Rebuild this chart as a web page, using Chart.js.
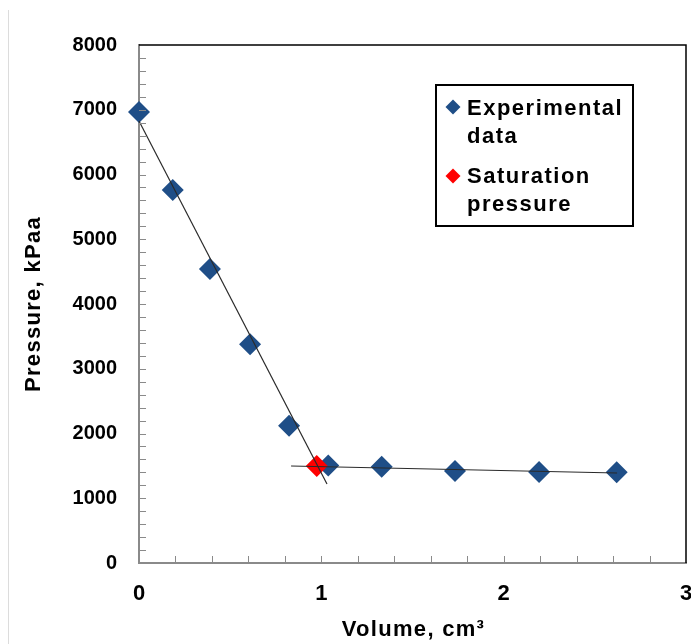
<!DOCTYPE html>
<html>
<head>
<meta charset="utf-8">
<script src="https://cdn.jsdelivr.net/npm/chart.js@4"></script>
<style>
  html, body { margin: 0; padding: 0; background: #ffffff; }
  canvas { display: block; }
</style>
</head>
<body>
<canvas id="c" width="691" height="644"></canvas>
<script>
// ---- data ----
const expVolume   = [0, 0.185, 0.389, 0.609, 0.823, 1.038, 1.331, 1.733, 2.194, 2.620];
const expPressure = [6965, 5760, 4541, 3378, 2121, 1505, 1488, 1421, 1405, 1401];
const satVolume   = [0.975];
const satPressure = [1500];
const steepLineX  = [0, 1.031];
const steepLineY  = [6825, 1220];
const flatLineX   = [0.834, 2.622];
const flatLineY   = [1498, 1390];
const xTicks = [0, 1, 2, 3];
const yTicks = [0, 1000, 2000, 3000, 4000, 5000, 6000, 7000, 8000];
const legendLabels = [["Experimental", "data"], ["Saturation", "pressure"]];
const xTitle = "Volume, cm³";
const yTitle = "Pressure, kPaa";

const BLUE = '#1F4E87';
const RED = '#FF0000';
const FONT = '"Liberation Sans", Arial, sans-serif';

const toXY = (xs, ys) => xs.map((x, i) => ({ x: x, y: ys[i] }));

const decorPlugin = {
  id: 'decor',
  beforeDraw(chart) {
    const ctx = chart.ctx;
    ctx.save();
    ctx.strokeStyle = '#dcdcdc';
    ctx.lineWidth = 1;
    ctx.beginPath();
    ctx.moveTo(8.5, 10);
    ctx.lineTo(8.5, 644);
    ctx.stroke();
    ctx.restore();
  },
  afterDraw(chart) {
    const ctx = chart.ctx;
    const ca = chart.chartArea;
    const xs = chart.scales.x, ys = chart.scales.y;
    ctx.save();
    // top & right border
    ctx.strokeStyle = '#000000';
    ctx.lineWidth = 1.5;
    ctx.beginPath();
    ctx.moveTo(ca.left, ca.top);
    ctx.lineTo(ca.right, ca.top);
    ctx.lineTo(ca.right, ca.bottom);
    ctx.stroke();
    // inward ticks
    ctx.strokeStyle = '#8a8a8a';
    ctx.lineWidth = 1;
    ctx.beginPath();
    for (let v = 200; v < 8000; v += 200) {
      const py = Math.round(ys.getPixelForValue(v)) + 0.5;
      ctx.moveTo(ca.left, py);
      ctx.lineTo(ca.left + 7, py);
    }
    for (let k = 1; k < 15; k++) {
      const px = Math.round(xs.getPixelForValue(k * 0.2)) + 0.5;
      ctx.moveTo(px, ca.bottom);
      ctx.lineTo(px, ca.bottom - 7);
    }
    ctx.stroke();

    // axis titles
    ctx.fillStyle = '#000000';
    ctx.font = 'bold 22px ' + FONT;
    try { ctx.letterSpacing = '1.3px'; } catch (e) {}
    ctx.textAlign = 'center';
    ctx.textBaseline = 'alphabetic';
    ctx.fillText(xTitle, (ca.left + ca.right) / 2 + 1, 636);
    ctx.save();
    ctx.translate(40, 305);
    ctx.rotate(-Math.PI / 2);
    ctx.fillText(yTitle, 1, 0);
    ctx.restore();

    // legend
    try { ctx.letterSpacing = '1.5px'; } catch (e) {}
    ctx.lineWidth = 2;
    ctx.strokeStyle = '#000000';
    ctx.fillStyle = '#ffffff';
    ctx.fillRect(436, 85, 197, 141);
    ctx.strokeRect(436, 85, 197, 141);
    const colors = [BLUE, RED];
    const markerY = [107, 176];
    const baselines = [[115, 143], [183, 211]];
    for (let i = 0; i < 2; i++) {
      ctx.fillStyle = colors[i];
      const mx = 453, my = markerY[i], r = 7.5;
      ctx.beginPath();
      ctx.moveTo(mx - r, my);
      ctx.lineTo(mx, my - r);
      ctx.lineTo(mx + r, my);
      ctx.lineTo(mx, my + r);
      ctx.closePath();
      ctx.fill();
      ctx.fillStyle = '#000000';
      ctx.textAlign = 'left';
      for (let j = 0; j < legendLabels[i].length; j++) {
        ctx.fillText(legendLabels[i][j], 467, baselines[i][j]);
      }
    }
    ctx.restore();
  }
};

new Chart(document.getElementById('c'), {
  type: 'scatter',
  data: {
    datasets: [
      {
        label: 'steep', data: toXY(steepLineX, steepLineY), showLine: true,
        borderColor: '#2a2a2a', borderWidth: 1.2, pointRadius: 0, order: 0
      },
      {
        label: 'flat', data: toXY(flatLineX, flatLineY), showLine: true,
        borderColor: '#2a2a2a', borderWidth: 1.2, pointRadius: 0, order: 0
      },
      {
        label: 'Saturation pressure', data: toXY(satVolume, satPressure),
        pointStyle: 'rectRot', pointRadius: 11, backgroundColor: RED,
        borderColor: RED, borderWidth: 0, order: 1
      },
      {
        label: 'Experimental data', data: toXY(expVolume, expPressure),
        pointStyle: 'rectRot', pointRadius: 11, backgroundColor: BLUE,
        borderColor: BLUE, borderWidth: 0, order: 2
      }
    ]
  },
  options: {
    responsive: false,
    devicePixelRatio: 1,
    animation: false,
    clip: false,
    layout: { autoPadding: false, padding: { left: 0, top: 45, right: 5, bottom: 0 } },
    plugins: { legend: { display: false }, tooltip: { enabled: false } },
    scales: {
      x: {
        type: 'linear', min: 0, max: 3,
        afterBuildTicks(scale) { scale.ticks = xTicks.map(v => ({ value: v })); },
        afterFit(scale) { scale.height = 81; scale.paddingLeft = 0; scale.paddingRight = 0; },
        grid: { drawOnChartArea: false, drawTicks: false },
        border: { color: '#8a8a8a', width: 2 },
        ticks: {
          padding: 18, color: '#000000', maxRotation: 0,
          font: { family: FONT, size: 22, weight: 'bold' },
          callback: (v) => String(v)
        },
        title: { display: false }
      },
      y: {
        type: 'linear', min: 0, max: 8000,
        afterBuildTicks(scale) { scale.ticks = yTicks.map(v => ({ value: v })); },
        afterFit(scale) { scale.width = 139; scale.paddingTop = 0; scale.paddingBottom = 0; },
        grid: { drawOnChartArea: false, drawTicks: false },
        border: { color: '#8a8a8a', width: 2 },
        ticks: {
          padding: 22, color: '#000000',
          font: { family: FONT, size: 20, weight: 'bold' },
          callback: (v) => String(v)
        },
        title: { display: false }
      }
    }
  },
  plugins: [decorPlugin]
});
</script>
</body>
</html>
